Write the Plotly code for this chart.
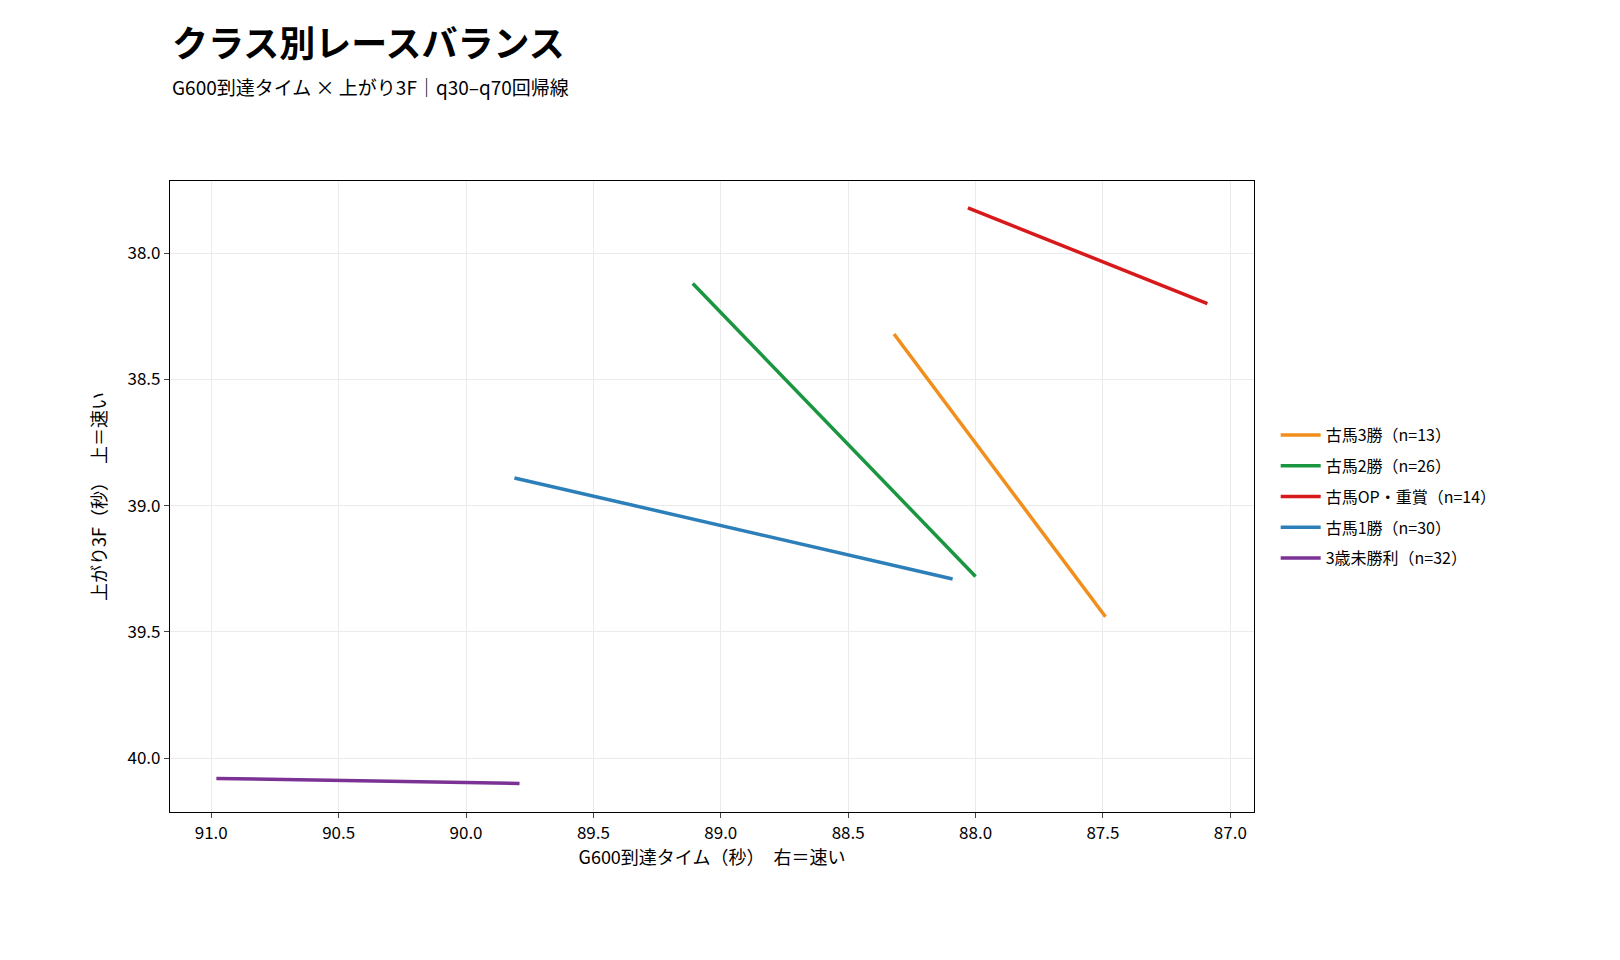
import plotly.graph_objects as go

FONT = "Noto Sans CJK JP"

names = ["古馬3勝（n=13）", "古馬2勝（n=26）", "古馬OP・重賞（n=14）", "古馬1勝（n=30）", "3歳未勝利（n=32）"]
colors = ["#f28e1c", "#1a9641", "#d7191c", "#2c7fb8", "#7b3294"]
x_start = [88.32, 89.11, 88.03, 89.81, 90.98]
x_end = [87.49, 88.00, 87.09, 88.09, 89.79]
y_start = [38.32, 38.12, 37.82, 38.89, 40.08]
y_end = [39.44, 39.28, 38.20, 39.29, 40.10]

fig = go.Figure()
for i, (n, c, xs, xe, ys, ye) in enumerate(zip(names, colors, x_start, x_end, y_start, y_end)):
    fig.add_trace(go.Scatter(x=[xs, xe], y=[ys, ye], mode="lines", name=n,
                             legendgroup=str(i),
                             line=dict(color=c, width=3.5)))

axis_style = dict(showline=True, linecolor="black", linewidth=1.2, mirror=True,
                  gridcolor="#ebebeb", ticks="outside", ticklen=5, zeroline=False,
                  tickfont=dict(size=17, color="black"))
L, R, T, B = 162, 374, 173, 156
ph = 960 - T - B
fig.update_layout(
    width=1620, height=960,
    font=dict(family=FONT, color="black"),
    plot_bgcolor="white", paper_bgcolor="white",
    margin=dict(l=L, r=R, t=T, b=B),
    xaxis=dict(range=[91.162, 86.907], dtick=0.5, tickformat=".1f",
               title=dict(text="G600到達タイム（秒）　右＝速い", font=dict(size=18), standoff=8),
               **axis_style),
    yaxis=dict(range=[40.213, 37.714], dtick=0.5, tickformat=".1f",
               title=dict(text="上がり3F（秒）　上＝速い", font=dict(size=18), standoff=16),
               **axis_style),
    legend=dict(x=1.02, y=0.5, yanchor="middle", xanchor="left", font=dict(size=16),
                tracegroupgap=7, itemwidth=40),
    annotations=[
        dict(text="<b>クラス別レースバランス</b>", x=0, y=1 + (T - 33) / ph,
             xref="paper", yref="paper", xanchor="left", yanchor="middle",
             showarrow=False, font=dict(size=36)),
        dict(text="G600到達タイム × 上がり3F｜q30–q70回帰線", x=0, y=1 + (T - 78) / ph,
             xref="paper", yref="paper", xanchor="left", yanchor="middle",
             showarrow=False, font=dict(size=19)),
    ],
)
fig.write_html("out.html")
